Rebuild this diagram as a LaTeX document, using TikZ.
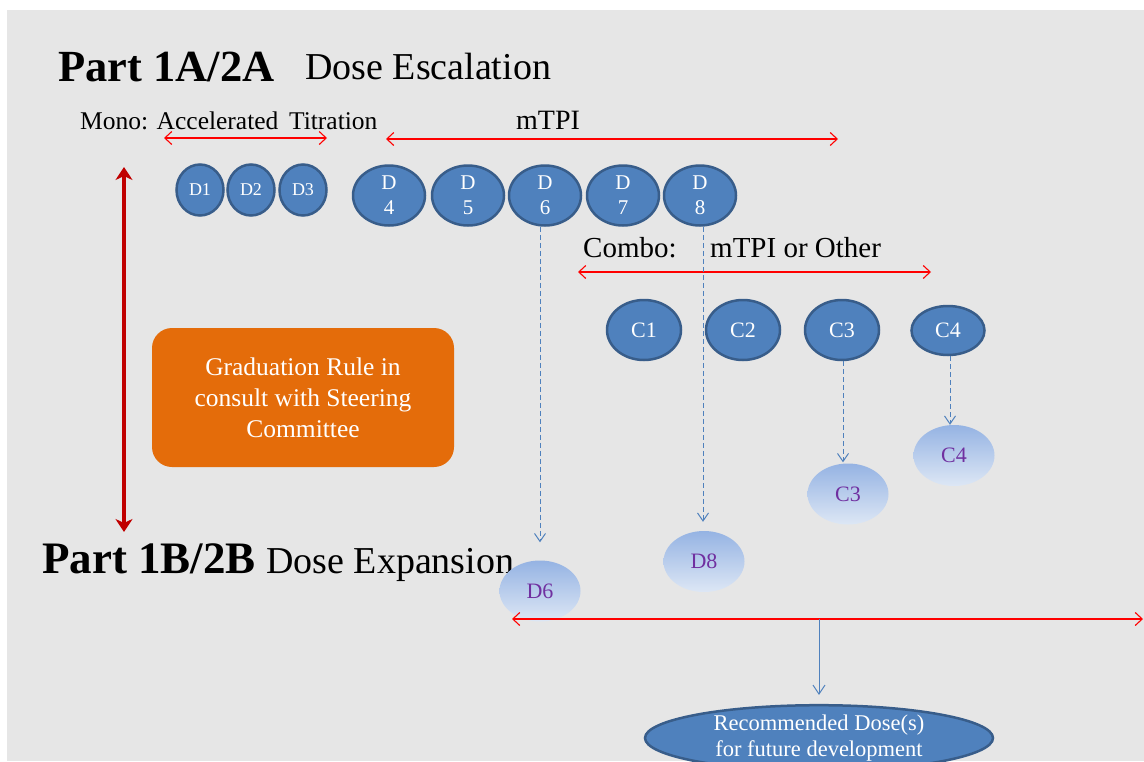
\documentclass[tikz,border=0pt]{standalone}
\usepackage{fontspec}
\setmainfont{Liberation Serif}
\usetikzlibrary{shapes.geometric,arrows.meta}
\definecolor{bg}{HTML}{E6E6E6}
\definecolor{dblue}{HTML}{4F81BD}
\definecolor{dborder}{HTML}{385D8A}
\definecolor{orng}{HTML}{E46C0A}
\definecolor{purp}{HTML}{7030A0}
\definecolor{darkred}{HTML}{C00000}
\definecolor{spanred}{HTML}{FF0000}
\definecolor{lighttop}{HTML}{95B3E3}
\definecolor{lightbot}{HTML}{DDE7F5}
\begin{document}
\begin{tikzpicture}[x=1pt,y=-1pt,
  dose/.style={ellipse, fill=dblue, draw=dborder, line width=2.5pt, text=white, inner sep=0pt, align=center},
  smalldose/.style={dose, minimum width=47pt, minimum height=51pt, font=\fontsize{18}{19}\selectfont},
  bigdose/.style={dose, minimum width=72pt, minimum height=60pt, font=\fontsize{21}{25}\selectfont},
  combodose/.style={dose, minimum width=74pt, minimum height=60pt, font=\fontsize{22}{24}\selectfont},
  lightdose/.style={ellipse, top color=lighttop, bottom color=lightbot, draw=none, inner sep=0pt,
     minimum width=81pt, minimum height=61pt, text=purp, font=\fontsize{22}{24}\selectfont},
  redarrow/.style={color=spanred, line width=1.1pt, {Straight Barb[length=7pt,width=13pt]}-{Straight Barb[length=7pt,width=13pt]}},
  dasharrow/.style={color=dblue, line width=1pt, dash pattern=on 5pt off 3pt, -{Straight Barb[length=8pt,width=11pt]}},
  bluearrow/.style={color=dblue, line width=1pt, -{Straight Barb[length=9pt,width=12pt]}},
  lbl/.style={anchor=base west, inner sep=0pt},
]
\useasboundingbox (0,0) rectangle (1144,761);
\fill[bg] (7,10) rectangle (1144,761);

% titles
\node[lbl, font=\fontsize{44.5}{50}\selectfont\bfseries] (t1) at (58,81) {Part 1A/2A};
\node[lbl, font=\fontsize{38}{44}\selectfont] (t1b) at (305,79) {Dose Escalation};
\node[lbl, font=\fontsize{25.5}{28}\selectfont] (mono) at (80,129) {Mono: Accelerated\, Titration};
\node[lbl, font=\fontsize{28}{30}\selectfont] (mtpi) at (516,129) {mTPI};
\node[lbl, font=\fontsize{29}{32}\selectfont] (combo) at (583,257) {Combo:};
\node[lbl, font=\fontsize{29}{32}\selectfont] (combo2) at (710,257) {mTPI or Other};
\node[lbl, font=\fontsize{45}{50}\selectfont\bfseries] (t2) at (42,573) {Part 1B/2B};
\node[lbl, font=\fontsize{38}{44}\selectfont] (t2b) at (266,573) {Dose Expansion};

% orange box
\node[fill=orng, rounded corners=20pt, minimum width=302pt, minimum height=139pt, text=white,
      align=center, font=\fontsize{25.5}{31}\selectfont, inner sep=0pt] (grad) at (303,397.5)
      {Graduation Rule in\\consult with Steering\\Committee};

% dose ellipses
\node[smalldose] (D1) at (200,190) {D1};
\node[smalldose] (D2) at (251,190) {D2};
\node[smalldose] (D3) at (303,190) {D3};
\node[bigdose] (D4) at (389,195.5) {D\\4};
\node[bigdose] (D5) at (468,195.5) {D\\5};
\node[bigdose] (D6) at (545,195.5) {D\\6};
\node[bigdose] (D7) at (623,195.5) {D\\7};
\node[bigdose] (D8) at (700,195.5) {D\\8};

\node[combodose] (C1) at (644,330) {C1};
\node[combodose] (C2) at (743,330) {C2};
\node[combodose] (C3) at (842,330) {C3};
\node[combodose, minimum width=73pt, minimum height=49pt] (C4) at (948,330.5) {C4};

% light (selected) ellipses
\node[lightdose] (lC4) at (954,455.5) {C4};
\node[lightdose] (lC3) at (848,494) {C3};
\node[lightdose] (lD8) at (704,561.5) {D8};
\node[lightdose] (lD6) at (540,591) {D6};

% recommended
\node[ellipse, fill=dblue, draw=dborder, line width=2.5pt, minimum width=348pt, minimum height=64pt,
      inner sep=0pt, text=white, align=center, font=\fontsize{22.5}{26}\selectfont] (rec) at (819,738)
      {Recommended Dose(s)\\for future development};

% red span arrows
\coordinate (m1) at (164,138);
\coordinate (m2) at (327,138);
\coordinate (p1) at (386,139);
\coordinate (p2) at (838,139);
\coordinate (c1a) at (578,272);
\coordinate (c1b) at (931,272);
\coordinate (e1) at (512,619);
\coordinate (e2) at (1143,619);
\coordinate (e0) at (819,619);
\draw[redarrow] (m1) -- (m2);
\draw[redarrow] (p1) -- (p2);
\draw[redarrow] (c1a) -- (c1b);
\draw[redarrow] (e1) -- (e2);

% dark red vertical arrow
\coordinate (v1) at (124,167);
\coordinate (v2) at (124,532);
\draw[color=darkred, line width=3.2pt, {Stealth[length=13pt,width=17pt,inset=4pt]}-{Stealth[length=13pt,width=17pt,inset=4pt]}] (v1) -- (v2);

% dashed arrows
\draw[dasharrow, shorten >=18pt] ([xshift=-5pt]D6.south) -- ([xshift=-5pt]D6.south |- lD6.north);
\draw[dasharrow, shorten >=9pt] ([xshift=3pt]D8.south) -- ([xshift=3pt]D8.south |- lD8.north);
\draw[dasharrow, shorten >=1pt] ([xshift=1pt]C3.south) -- ([xshift=1pt]C3.south |- lC3.north);
\draw[dasharrow, shorten >=0pt] ([xshift=2pt]C4.south) -- ([xshift=2pt]C4.south |- lC4.north);

\draw[bluearrow, shorten >=9pt] (e0) -- (rec.north);
\end{tikzpicture}
\end{document}
